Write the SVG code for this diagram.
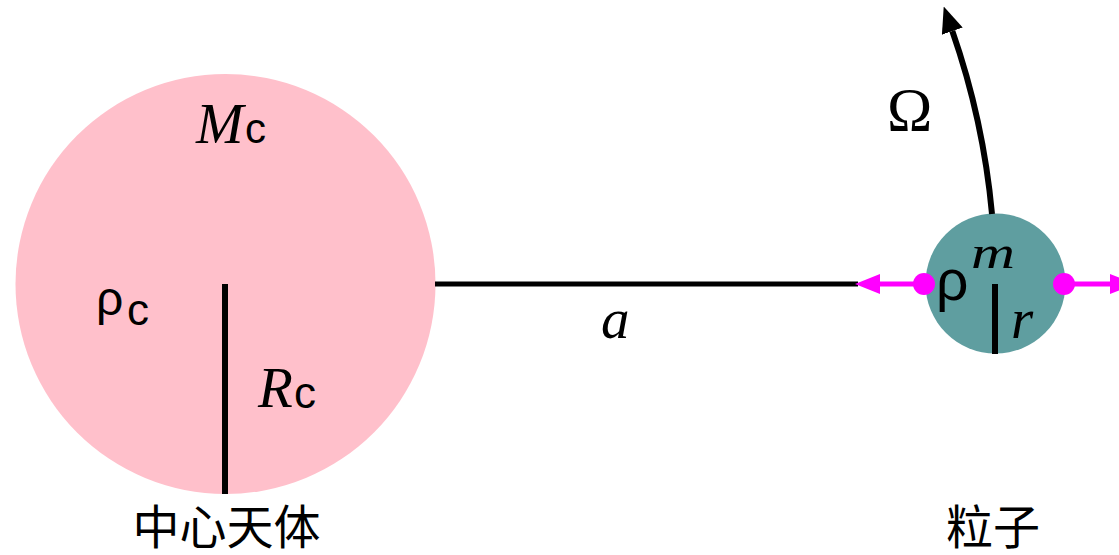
<svg xmlns="http://www.w3.org/2000/svg" width="1119" height="555" viewBox="0 0 1119 555">
<style>
.serif-i{font-family:"Liberation Serif","Times New Roman",serif;font-style:italic;fill:#000}
.serif{font-family:"Liberation Serif","Times New Roman",serif;fill:#000}
.sans{font-family:"Liberation Sans",Arial,sans-serif;fill:#000}
.cjk{font-family:"Noto Sans CJK SC","Noto Sans CJK JP",sans-serif;fill:#000;font-size:47px;text-anchor:middle}
.blk{stroke:#000;fill:none}
.mag{stroke:#FF00FF;stroke-width:5;fill:none}
</style>
<defs>
<marker id="magArrow" markerUnits="userSpaceOnUse" viewBox="0 0 25 20" refX="0" refY="10" markerWidth="25" markerHeight="20" orient="auto">
<path d="M0,0 L25,10 L0,20 z" fill="#FF00FF"/>
</marker>
<marker id="blkArrow" markerUnits="userSpaceOnUse" viewBox="0 0 26 22" refX="0" refY="11" markerWidth="26" markerHeight="22" orient="auto">
<path d="M0,0 L26,11 L0,22 z" fill="#000"/>
</marker>
</defs>

<g id="central-body">
<circle cx="225.5" cy="284" r="210" fill="#FFC0CB"/>
<line class="blk" x1="225" y1="284" x2="225" y2="494" stroke-width="6"/>
<text x="196" y="143" class="serif-i" font-size="57">M</text>
<text x="245" y="143" class="sans" font-size="42">c</text>
<text x="96" y="315" class="sans" font-size="48">ρ</text>
<text x="127" y="325" class="sans" font-size="44">c</text>
<text x="258" y="407" class="serif-i" font-size="57">R</text>
<text x="294" y="408" class="sans" font-size="44">c</text>
<text x="226.5" y="544" class="cjk">中心天体</text>
</g>

<g id="particle">
<circle cx="995.5" cy="283.5" r="70" fill="#5F9EA0"/>
<line class="blk" x1="995" y1="284" x2="995" y2="354" stroke-width="6"/>
<text x="936" y="300" class="sans" font-size="57">ρ</text>
<text x="971" y="268" class="serif-i" font-size="46" textLength="44" lengthAdjust="spacingAndGlyphs">m</text>
<text x="1011" y="338" class="serif-i" font-size="57">r</text>
<text x="993" y="544" class="cjk">粒子</text>
</g>

<g id="connectors">
<line class="blk" x1="435" y1="284" x2="858" y2="284" stroke-width="5"/>
<line class="mag" x1="924" y1="284" x2="880" y2="284" marker-end="url(#magArrow)"/>
<circle cx="924" cy="284" r="11" fill="#FF00FF"/>
<line class="mag" x1="1064" y1="284" x2="1110" y2="284" marker-end="url(#magArrow)"/>
<circle cx="1064" cy="284" r="11" fill="#FF00FF"/>
<path class="blk" stroke-width="6" d="M 992 214 A 770 770 0 0 0 952.3 31.1" marker-end="url(#blkArrow)"/>
<text x="887" y="130" class="serif" font-size="61">Ω</text>
<text x="601" y="338" class="serif-i" font-size="57">a</text>
</g>
</svg>
